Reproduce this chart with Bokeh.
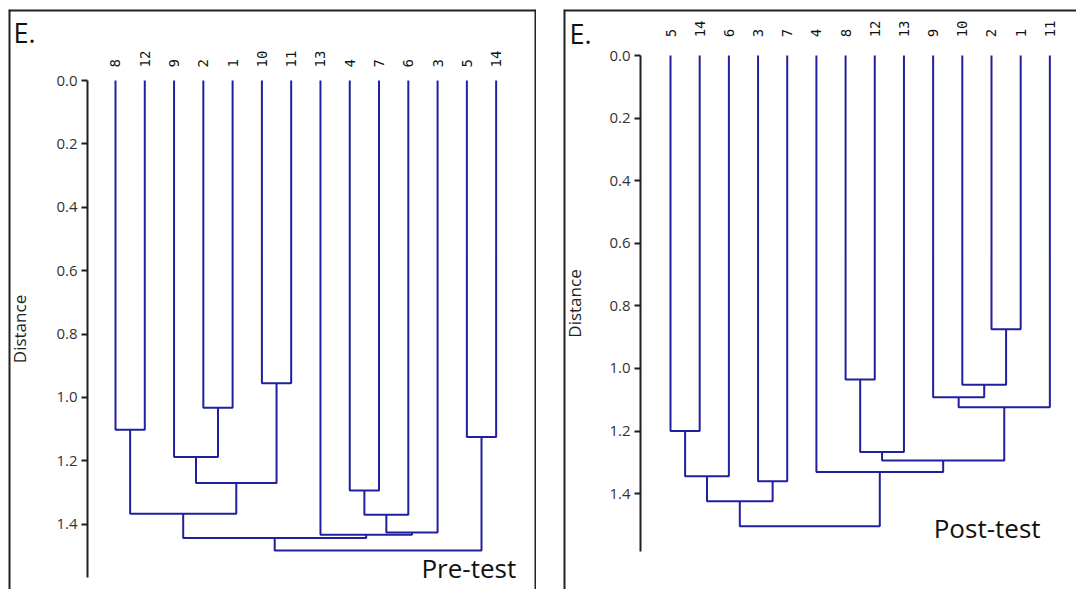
import numpy as np
from bokeh.plotting import figure
from bokeh.models import (Range1d, FixedTicker, PrintfTickFormatter, Label, ColumnDataSource,
                          LinearAxis, Span, Spacer)
from bokeh.layouts import row, column
from bokeh.embed import file_html
from bokeh.resources import INLINE
from bokeh.core.properties import value

# ---------------- data ----------------
y_ticks = [0.0, 0.2, 0.4, 0.6, 0.8, 1.0, 1.2, 1.4]

# Pre-test dendrogram (leaf order left->right; merges scipy-style, new node ids start at 14)
pre_leaves = ["8", "12", "9", "2", "1", "10", "11", "13", "4", "7", "6", "3", "5", "14"]
pre_child_a = [0, 3, 2, 5, 16, 14, 8, 20, 21, 7, 19, 12, 24]
pre_child_b = [1, 4, 15, 6, 17, 18, 9, 10, 11, 22, 23, 13, 25]
pre_height = [1.102, 1.032, 1.188, 0.955, 1.270, 1.367, 1.293, 1.370, 1.426, 1.433, 1.443, 1.125, 1.483]

# Post-test dendrogram
post_leaves = ["5", "14", "6", "3", "7", "4", "8", "12", "13", "9", "10", "2", "1", "11"]
post_child_a = [0, 14, 3, 15, 6, 18, 11, 10, 9, 22, 19, 5, 17]
post_child_b = [1, 2, 4, 16, 7, 8, 12, 20, 21, 13, 23, 24, 25]
post_height = [1.200, 1.344, 1.360, 1.424, 1.035, 1.267, 0.875, 1.052, 1.092, 1.124, 1.294, 1.331, 1.504]

panel_letter = "E."
pre_title = "Pre-test"
post_title = "Post-test"
axis_title = "Distance"

LINE = "#20209e"
INK = "#1e1e1e"
H = 580


def links(n, a, b, h):
    xpos = [float(i) for i in range(n)]
    hpos = [0.0] * n
    xs, ys = [], []
    for ca, cb, hh in zip(a, b, h):
        xa, xb = xpos[ca], xpos[cb]
        xs.append([xa, xa, xb, xb])
        ys.append([hpos[ca], hh, hh, hpos[cb]])
        xpos.append((xa + xb) / 2.0)
        hpos.append(hh)
    return xs, ys


def make_panel(leaves, a, b, h, width, xr, yr, axis_x, bounds_end, label_y,
               letter_xy, title_xy, title, right_border, label_standoff):
    p = figure(width=width, height=H, x_range=Range1d(*xr), y_range=Range1d(*yr),
               x_axis_location=None, y_axis_location=None,
               toolbar_location=None, output_backend="svg",
               min_border_left=0, min_border_right=0,
               min_border_top=0, min_border_bottom=0)
    p.grid.visible = False
    p.outline_line_color = None
    p.background_fill_color = "white"
    p.border_fill_color = "white"

    ax = LinearAxis(fixed_location=axis_x)
    ax.ticker = FixedTicker(ticks=y_ticks)
    ax.formatter = PrintfTickFormatter(format="%.1f")
    ax.bounds = (0, bounds_end)
    ax.axis_line_color = INK
    ax.axis_line_width = 2
    ax.major_tick_line_color = INK
    ax.major_tick_line_width = 2
    ax.major_tick_out = 6
    ax.major_tick_in = 0
    ax.minor_tick_line_color = None
    ax.major_label_text_font = "Open Sans"
    ax.major_label_text_font_size = "15px"
    ax.major_label_text_color = "#333333"
    ax.major_label_standoff = 4
    ax.axis_label = axis_title
    ax.axis_label_text_font = "Open Sans"
    ax.axis_label_text_font_size = "17px"
    ax.axis_label_text_font_style = "normal"
    ax.axis_label_text_color = "#222222"
    ax.axis_label_standoff = label_standoff
    p.add_layout(ax, "left")

    # panel box (left, top, optional right edge); half of the width falls outside the canvas
    p.add_layout(Span(location=xr[0], dimension="height", line_color="#222222", line_width=4))
    p.add_layout(Span(location=yr[1], dimension="width", line_color="#222222", line_width=4))
    if right_border:
        p.add_layout(Span(location=xr[1], dimension="height", line_color="#222222", line_width=4))

    xs, ys = links(len(leaves), a, b, h)
    p.multi_line(xs="xs", ys="ys", source=ColumnDataSource(dict(xs=xs, ys=ys)),
                 line_color=LINE, line_width=2)

    n = len(leaves)
    p.text(x=list(range(n)), y=[label_y] * n, text=leaves, angle=np.pi / 2,
           text_align="left", text_baseline="middle",
           text_font=value("DejaVu Sans Mono"), text_font_size="14px",
           text_color="#111111")

    p.add_layout(Label(x=letter_xy[0], y=letter_xy[1], text=panel_letter,
                       text_font="Open Sans", text_font_size="27px",
                       text_color="#111111", text_baseline="alphabetic"))
    p.add_layout(Label(x=title_xy[0], y=title_xy[1], text=title,
                       text_font="Open Sans", text_font_size="26px",
                       text_color="#111111", text_baseline="alphabetic"))
    return p


p1 = make_panel(pre_leaves, pre_child_a, pre_child_b, pre_height, 528,
                (-3.654, 14.378), (1.6057, -0.224), -0.956, 1.567, -0.041,
                (-3.48, -0.150), (10.45, 1.538), pre_title, True, 22)
p2 = make_panel(post_leaves, post_child_a, post_child_b, post_height, 513,
                (-3.667, 13.913), (1.7061, -0.147), -1.028, 1.584, -0.058,
                (-3.46, -0.070), (9.02, 1.510), post_title, False, 20)

layout = column(Spacer(height=9),
                row(Spacer(width=8), p1, Spacer(width=27), p2))
open("out.html", "w").write(file_html(layout, INLINE))
